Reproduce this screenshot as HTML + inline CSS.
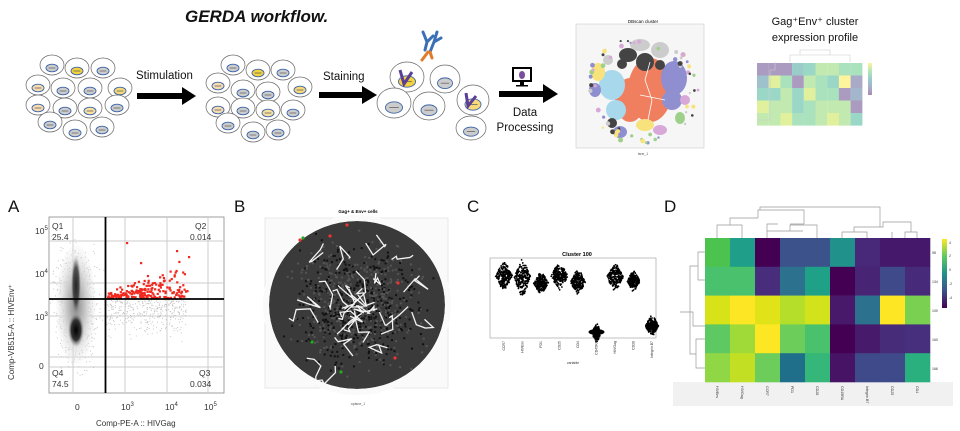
<!DOCTYPE html>
<html><head><meta charset="utf-8">
<style>
html,body{margin:0;padding:0;background:#fff;}
svg{display:block;font-family:"Liberation Sans",sans-serif;}
</style></head>
<body>
<svg id="s" width="960" height="431" viewBox="0 0 960 431" xmlns="http://www.w3.org/2000/svg">
<rect width="960" height="431" fill="#fff"/>
<text x="185" y="22" font-size="17" font-weight="bold" font-style="italic" fill="#111">GERDA workflow.</text>
<g id="cells"></g>
<text x="136" y="79" font-size="11.5" fill="#111">Stimulation</text>
<polygon points="137,93 182,93 182,87 196,96 182,105 182,99 137,99" fill="#000"/>
<text x="323" y="80" font-size="11.5" fill="#111">Staining</text>
<polygon points="319,92 362,92 362,86 377,95 362,104 362,98 319,98" fill="#000"/>
<polygon points="499,91 543,91 543,84 558,94 543,103 543,97 499,97" fill="#000"/>
<rect x="513" y="68" width="18" height="13" fill="#fff" stroke="#000" stroke-width="2"/>
<ellipse cx="522" cy="75" rx="3" ry="4" fill="#7a4e9c"/>
<rect x="520" y="82" width="4" height="3" fill="#000"/><rect x="516" y="85" width="12" height="1.5" fill="#000"/>
<text x="525" y="116" font-size="11.5" text-anchor="middle" fill="#111">Data</text>
<text x="525" y="131" font-size="11.5" text-anchor="middle" fill="#111">Processing</text>
<g stroke-width="3" fill="none" stroke-linecap="round">
<path d="M423 32 L427 42 L433 36 M427 42 L425 50" stroke="#3b6fb6"/>
<path d="M437 32 L434 42 L441 38 M434 42 L430 52" stroke="#3b6fb6"/>
<path d="M428 52 L422 60 M430 52 L432 58" stroke="#e07b2a"/>
</g>
<rect x="570" y="18" width="136" height="140" fill="#fff"/>
<rect x="576" y="24" width="128" height="124" fill="#f6f6f6" stroke="#ccc" stroke-width="0.6"/>
<text x="643" y="23" font-size="4.5" text-anchor="middle">DBscan cluster</text>
<g id="tsne"></g>
<text x="643" y="155" font-size="3.5" text-anchor="middle" fill="#555">tsne_1</text>
<text x="815" y="25" font-size="11" text-anchor="middle" fill="#111">Gag⁺Env⁺ cluster</text>
<text x="815" y="41" font-size="11" text-anchor="middle" fill="#111">expression profile</text>
<g id="hmTop" opacity="0.45"></g>
<g fill="none" stroke="#ccc" stroke-width="0.6"><path d="M790 62 V55 H850 V62 M800 55 V50 H830 V55 M775 62 V70 H770 V120 H757"/></g>
<text x="8" y="212" font-size="17" fill="#111">A</text>
<text x="234" y="212" font-size="17" fill="#111">B</text>
<text x="467" y="212" font-size="17" fill="#111">C</text>
<text x="664" y="212" font-size="17" fill="#111">D</text>
<rect x="49" y="217" width="175" height="176" fill="#fff" stroke="#888" stroke-width="0.8"/>
<g stroke="#ccc" stroke-width="1">
<line x1="73" y1="217" x2="73" y2="393"/><line x1="125" y1="217" x2="125" y2="393"/><line x1="167" y1="217" x2="167" y2="393"/><line x1="208" y1="217" x2="208" y2="393"/>
<line x1="49" y1="241" x2="224" y2="241"/><line x1="49" y1="283" x2="224" y2="283"/><line x1="49" y1="316" x2="224" y2="316"/><line x1="49" y1="357" x2="224" y2="357"/><line x1="49" y1="367" x2="224" y2="367"/>
</g>
<defs>
<radialGradient id="blob" cx="0.5" cy="0.5" r="0.5">
<stop offset="0" stop-color="#888"/><stop offset="0.5" stop-color="#ccc"/><stop offset="1" stop-color="#eee" stop-opacity="0.2"/>
</radialGradient>
<radialGradient id="core" cx="0.5" cy="0.5" r="0.5">
<stop offset="0" stop-color="#000"/><stop offset="0.6" stop-color="#333"/><stop offset="1" stop-color="#999" stop-opacity="0"/>
</radialGradient>
</defs>
<g id="adots"></g>
<ellipse cx="76" cy="305" rx="20" ry="60" fill="url(#blob)"/>
<ellipse cx="76" cy="285" rx="5" ry="30" fill="url(#core)" opacity="0.8"/>
<ellipse cx="76" cy="330" rx="8" ry="17" fill="url(#core)"/>
<g id="reddots"></g>
<line x1="105.5" y1="217" x2="105.5" y2="393" stroke="#000" stroke-width="1.8"/>
<line x1="49" y1="299" x2="224" y2="299" stroke="#000" stroke-width="1.8"/>
<g font-size="8.5" fill="#333">
<text x="52" y="229">Q1</text><text x="52" y="240">25.4</text>
<text x="195" y="229">Q2</text><text x="190" y="240">0.014</text>
<text x="52" y="376">Q4</text><text x="52" y="387">74.5</text>
<text x="199" y="376">Q3</text><text x="190" y="387">0.034</text>
<text x="35" y="234">10<tspan font-size="6" dy="-4">5</tspan></text>
<text x="35" y="277">10<tspan font-size="6" dy="-4">4</tspan></text>
<text x="35" y="320">10<tspan font-size="6" dy="-4">3</tspan></text>
<text x="39" y="369">0</text>
<text x="75" y="410">0</text>
<text x="121" y="410">10<tspan font-size="6" dy="-4">3</tspan></text>
<text x="165" y="410">10<tspan font-size="6" dy="-4">4</tspan></text>
<text x="204" y="410">10<tspan font-size="6" dy="-4">5</tspan></text>
<text x="96" y="426" font-size="8">Comp-PE-A :: HIVGag</text>
<text transform="translate(14,380) rotate(-90)" font-size="8">Comp-VB515-A :: HIVEnv⁺</text>
</g>
<rect x="263" y="214" width="187" height="182" fill="#fff"/>
<rect x="265" y="218" width="183" height="170" fill="#fafafa" stroke="#ddd" stroke-width="0.6"/>
<g id="tsneB"></g>
<text x="358" y="213" font-size="4.5" text-anchor="middle" font-weight="bold">Gag+ &amp; Env+ cells</text>
<text x="358" y="405" font-size="3.5" text-anchor="middle" fill="#555">optsne_1</text>
<text x="577" y="256" font-size="5.5" text-anchor="middle" font-weight="bold">Cluster 100</text>
<rect x="490" y="258" width="166" height="80" fill="#fff" stroke="#999" stroke-width="0.6"/>
<g id="beeC"></g>
<g font-size="3.5" fill="#333" id="clab"></g>
<rect x="673" y="382" width="280" height="24" fill="#f1f1f1"/>
<g id="hmD"></g>
<g fill="none" stroke="#999" stroke-width="0.7">
<path d="M717 238 V225 H742 V238 M730 225 V218 H758 M767 238 V231 H803 M790 231 V225 H817 V238 M767 231 V224 H778 M758 218 V210 H804 V224 M804 224 H790"/>
<path d="M842 238 V232 H867 V238 M854 232 V227 H880 V215 M905 238 V232 H917 V238 M892 238 V232 M880 227 H883 V222 H911 V232 M760 210 V207 H880 V222"/>
<path d="M705 252 H698 V280 H705 M698 266 H690 V312 M705 339 H696 V368 H705 M696 354 H690 V312 H680 M690 312 H693 V326 H705"/>
</g>
<defs><linearGradient id="vir" x1="0" y1="0" x2="0" y2="1">
<stop offset="0" stop-color="#fde725"/><stop offset="0.25" stop-color="#5ec962"/><stop offset="0.5" stop-color="#21918c"/><stop offset="0.75" stop-color="#3b528b"/><stop offset="1" stop-color="#440154"/>
</linearGradient></defs>
<rect x="942" y="239" width="5" height="69" fill="url(#vir)"/>
<g font-size="3.5" fill="#333">
<text x="949" y="244">4</text><text x="949" y="257">2</text><text x="949" y="271">0</text><text x="949" y="285">-2</text><text x="949" y="299">-4</text>
<text x="932" y="254">98</text><text x="932" y="283">134</text><text x="932" y="312">100</text><text x="932" y="341">160</text><text x="932" y="370">166</text>
</g>
<g font-size="3.6" fill="#333" id="dlab"></g>
</svg>
<script>
var NS="http://www.w3.org/2000/svg";
function el(p,t,a){var e=document.createElementNS(NS,t);for(var k in a)e.setAttribute(k,a[k]);p.appendChild(e);return e;}
var seed=7;function r(){seed=(seed*16807)%2147483647;return (seed-1)/2147483646;}
function g(){return (r()+r()+r()-1.5)/1.5;}
var $=function(i){return document.getElementById(i);};
var C=$("cells");
function cell(x,y,rx,ry,nuc){el(C,"ellipse",{cx:x,cy:y,rx:rx,ry:ry,fill:"#fff",stroke:"#666","stroke-width":0.7});
el(C,"ellipse",{cx:x,cy:y+ry*0.3,rx:rx*0.5,ry:ry*0.38,fill:nuc,stroke:"#3c64a8","stroke-width":0.9});
el(C,"line",{x1:x-rx*0.28,y1:y+ry*0.3,x2:x+rx*0.28,y2:y+ry*0.3,stroke:"#666","stroke-width":0.8});}
var g1=[[52,65,"#ccc"],[77,68,"#f4d23c"],[103,68,"#ccc"],[38,85,"#f8dcb0"],[63,88,"#ccc"],[90,88,"#ccc"],[120,88,"#f8d97a"],[38,105,"#f8dcb0"],[65,108,"#ccc"],[90,108,"#f8e0a0"],[117,105,"#ccc"],[50,122,"#ccc"],[75,130,"#ccc"],[102,127,"#ccc"]];
g1.forEach(function(c){cell(c[0],c[1],12,10,c[2]);});
var g2=[[233,65,"#ccc"],[258,70,"#f4d23c"],[283,70,"#ccc"],[218,83,"#f8dcb0"],[243,90,"#ccc"],[268,92,"#ccc"],[300,87,"#f8d97a"],[218,107,"#f8dcb0"],[243,108,"#ccc"],[268,110,"#f8e0a0"],[293,110,"#ccc"],[228,123,"#ccc"],[253,132,"#ccc"],[278,130,"#ccc"]];
g2.forEach(function(c){cell(c[0],c[1],12,10,c[2]);});
[[407,77,17,15,"#f4d23c"],[445,79,15,14,"#ccc"],[394,103,17,15,"#ccc"],[429,106,16,14,"#ccc"],[473,100,16,15,"#f8d97a"],[471,128,15,12,"#ccc"]].forEach(function(c){cell(c[0],c[1],c[2],c[3],c[4]);});
el(C,"path",{d:"M400 70 L404 84 L412 72",stroke:"#5a3d99","stroke-width":3,fill:"none"});
el(C,"path",{d:"M466 93 L468 106 L476 96",stroke:"#5a3d99","stroke-width":3,fill:"none"});
var T=$("tsne");
var bl=[[650,90,22,32,"#f07f5f"],[630,100,15,22,"#f07f5f"],[612,85,13,15,"#a8d8ec"],[616,110,10,10,"#a8d8ec"],[674,78,13,17,"#8e8ed0"],[672,100,10,10,"#9090d0"],[628,55,9,7,"#444"],[645,62,9,9,"#444"],[660,50,9,8,"#ccc"],[640,45,10,6,"#ccc"],[598,72,7,9,"#f8e27c"],[595,90,6,7,"#8e8ed0"],[645,125,9,6,"#f8e27c"],[660,130,7,5,"#d8a8d8"],[612,123,5,5,"#444"],[620,132,7,6,"#8e8ed0"],[685,100,5,5,"#d8a8d8"],[680,118,5,6,"#9fd08a"],[622,64,5,5,"#444"],[608,60,5,5,"#ccc"],[660,65,5,5,"#444"]];
bl.forEach(function(b){el(T,"ellipse",{cx:b[0],cy:b[1],rx:b[2],ry:b[3],fill:b[4]});});
for(var i=0;i<60;i++){var a=r()*6.28,d=45+r()*12;el(T,"circle",{cx:642+Math.cos(a)*d,cy:90+Math.sin(a)*d*0.95,r:1+r()*1.5,fill:["#d8a8d8","#9fd08a","#f8e27c","#8e8ed0","#ccc","#444"][i%6]});}
el(T,"path",{d:"M650 62 L645 80 L652 100 M640 95 L665 100 M652 100 L648 120",stroke:"#fff","stroke-width":0.8,fill:"none"});
var vir=["#440154","#482475","#414487","#355f8d","#2a788e","#21918c","#22a884","#44bf70","#7ad151","#bddf26","#fde725"];
var H=$("hmTop");
var tv=[[1,1,1,5,6,8,8,7,7],[4,9,7,1,8,7,6,10,2],[6,6,8,6,9,7,7,1,3],[9,8,8,6,7,8,8,8,1],[8,8,9,7,7,8,9,8,6]];
for(var i=0;i<5;i++)for(var j=0;j<9;j++)el(H,"rect",{x:757+j*11.7,y:63+i*12.5,width:11.8,height:12.6,fill:vir[tv[i][j]]});
el(H,"rect",{x:868,y:63,width:4,height:32,fill:"url(#vir)"});
var A=$("adots");
for(var i=0;i<700;i++){var x=76+g()*30,y=305+g()*80;if(y<225||y>380)continue;el(A,"rect",{x:x,y:y,width:0.9,height:0.9,fill:"#bbb"});}
for(var i=0;i<350;i++){var x=106+r()*80,y=300+Math.abs(g())*45;el(A,"rect",{x:x,y:y,width:0.9,height:0.9,fill:"#bbb"});}
var R=$("reddots");
for(var i=0;i<200;i++){var t=r();var x=107+t*80+g()*8;var y=297-Math.abs(g())*(8+t*40);if(x<107||x>192)continue;el(R,"rect",{x:x,y:y,width:2.2,height:2.2,fill:"#f0281e"});}
[[126,242],[176,250],[188,256],[140,262]].forEach(function(p){el(R,"rect",{x:p[0],y:p[1],width:2.2,height:2.2,fill:"#f0281e"});});
var B=$("tsneB");
el(B,"ellipse",{cx:357,cy:305,rx:88,ry:84,fill:"#3a3a3a"});
for(var i=0;i<900;i++){var x=357+g()*85,y=305+g()*82;if((x-357)*(x-357)+(y-305)*(y-305)>84*84)continue;el(B,"rect",{x:x,y:y,width:2,height:2,fill:r()<0.5?"#111":"#555"});}
for(var i=0;i<28;i++){var a=r()*6.28,d=r()*75;var x=357+Math.cos(a)*d,y=305+Math.sin(a)*d;var p="M"+x+" "+y;for(var k=0;k<4;k++){x+=(r()-0.5)*28;y+=(r()-0.5)*28;p+=" L"+x+" "+y;}el(B,"path",{d:p,fill:"none",stroke:"#f2f2f2","stroke-width":1.3});}
el(B,"ellipse",{cx:357,cy:305,rx:91,ry:87,fill:"none",stroke:"#fafafa","stroke-width":6});
[[300,240,"#e33"],[303,238,"#2a2"],[347,225,"#e33"],[330,236,"#e33"],[398,283,"#e33"],[395,358,"#e33"],[312,342,"#2a2"],[341,372,"#2a2"]].forEach(function(p){el(B,"circle",{cx:p[0],cy:p[1],r:1.6,fill:p[2]});});
var BC=$("beeC");var cx0=504,dx=18.5;
var spec=[[276,16,8],[278,20,8],[283,12,7],[276,15,8],[282,14,7],[333,10,4],[277,15,8],[281,11,6],[326,12,6]];
spec.forEach(function(s,j){var x0=cx0+j*dx;for(var i=0;i<220;i++){var u=g();var y=s[0]+u*s[1];var w=s[2]*(1-Math.abs(u))+0.5;el(BC,"circle",{cx:x0+(r()*2-1)*w,cy:y,r:0.9,fill:"#000"});}});
el(BC,"ellipse",{cx:cx0+5*dx,cy:332,rx:8,ry:3,fill:"#000"});
el(BC,"ellipse",{cx:cx0+8*dx,cy:326,rx:7,ry:3,fill:"#000"});
var names=["CCR7","HIVEnv","PD1","CD25","CD4","CD45RA","HIVGag","CD28","Integrin.B7"];
var CL=$("clab");
names.forEach(function(n,j){var t=el(CL,"text",{transform:"translate("+(cx0+j*dx+1)+",341) rotate(-90)","text-anchor":"end"});t.textContent=n;});
var t=el(CL,"text",{x:573,y:364,"text-anchor":"middle"});t.textContent="variable";
var D=$("hmD");
var dv=[["#4cc24f","#1f9e89","#440154","#3b528b","#3b528b","#21918c","#482878","#46186b","#46186b"],
["#4ac16d","#4ac16d","#472d7b","#2c728e","#1fa187","#440154","#482475","#3e4a89","#472a7a"],
["#d8e219","#fde725","#e0e318","#b5de2b","#d2e21b","#48186a","#2c728e","#fde725","#7ad151"],
["#5ec962","#a0da39","#fde725","#6ccd5a","#4ac16d","#440154","#481a6c","#472c7a","#472f7d"],
["#8fd744","#c2df23","#6ccd5a","#1f6f8b","#35b779","#471365","#3e4a89","#3e4a89","#2ab07f"]];
for(var i=0;i<5;i++)for(var j=0;j<9;j++)el(D,"rect",{x:705+j*25,y:238+i*28.8,width:25.3,height:29.1,fill:dv[i][j]});
var dn=["HIVEnv","HIVGag","CCR7","PD1","CD28","CD45RA","Integrin.B7","CD25","CD4"];
var DL=$("dlab");
dn.forEach(function(n,j){var t=el(DL,"text",{transform:"translate("+(716+j*25)+",386) rotate(90)"});t.textContent=n;});
</script>
</body></html>
